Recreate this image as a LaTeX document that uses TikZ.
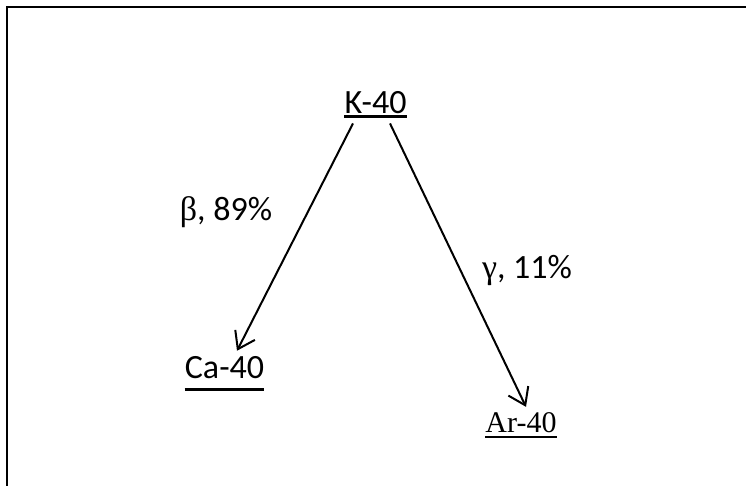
\documentclass[tikz,border=0pt]{standalone}
\usepackage{fontspec}
\setmainfont{Carlito}
\newfontfamily\grk{Liberation Serif}
\newfontfamily\serifff{Liberation Serif}
\usetikzlibrary{arrows.meta}
\begin{document}
\begin{tikzpicture}[x=1pt,y=-1pt,
  lbl/.style={inner sep=0pt,anchor=base,font=\fontsize{34}{40}\selectfont},
  slbl/.style={inner sep=0pt,anchor=base,font=\serifff\fontsize{30}{36}\selectfont},
  arr/.style={line width=2pt,-{Straight Barb[length=16pt,width=22pt,line width=2pt]}},
  ulthick/.style={line width=3pt},
  ulthin/.style={line width=2pt}]
\useasboundingbox (0,0) rectangle (746,485);
\draw[line width=2pt] (7,490) -- (7,7) -- (750,7);
\node[lbl] (k) at (375.5,113) {K-40};
\node[lbl] (c) at (224.5,378) {Ca-40};
\node[slbl] (a) at (521,432) {Ar-40};
\node[lbl] (b) at (226,220) {{\grk β}, 89\%};
\node[lbl] (g) at (527,278) {{\grk γ}, 11\%};
\draw[ulthick] ([yshift=-3pt]k.base west) -- ([yshift=-3pt]k.base east);
\draw[ulthick] ([yshift=-11pt]c.base west) -- ([yshift=-11pt]c.base east);
\draw[ulthin] ([yshift=-5pt]a.base west) -- ([yshift=-5pt]a.base east);
\draw[arr] ([xshift=-22.5pt,yshift=-10pt]k.south) -- ([xshift=12.5pt,yshift=5pt]c.north);
\draw[arr] ([xshift=14.5pt,yshift=-10pt]k.south) -- ([xshift=5pt,yshift=5pt]a.north);
\end{tikzpicture}
\end{document}
